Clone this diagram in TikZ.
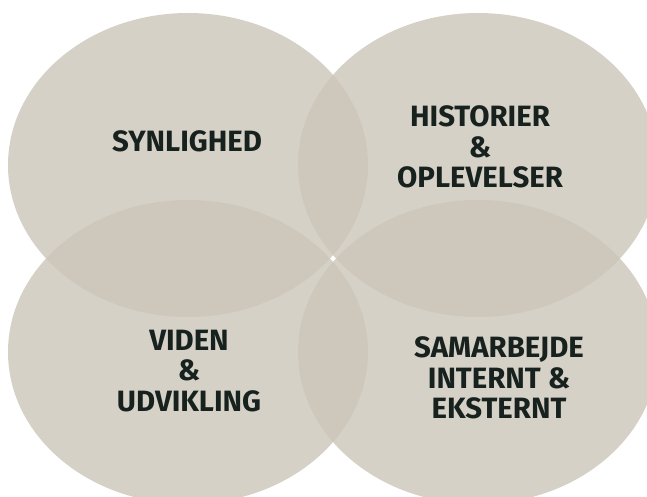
\documentclass[tikz,border=0pt]{standalone}
\usepackage{fontspec}
\setmainfont{Fira Sans}
\definecolor{sand}{RGB}{203,197,185}
\definecolor{ink}{RGB}{23,34,31}
\begin{document}
\begin{tikzpicture}[x=1bp, y=-1bp,
  bubble/.style={fill=sand, fill opacity=0.8},
  word/.style={text=ink, align=center, font=\bfseries\fontsize{29.5}{30.5}\selectfont}]
\useasboundingbox (0,0) rectangle (647,497);
\clip (0,0) rectangle (647,497);

% Ellipser
\fill[bubble] (188,165) ellipse [x radius=180, y radius=152];
\fill[bubble] (478,165) ellipse [x radius=180, y radius=152];
\fill[bubble] (188,352) ellipse [x radius=180, y radius=152];
\fill[bubble] (478,352) ellipse [x radius=180, y radius=152];

% Tekster
\node[word] (synlighed) at (187,141) {SYNLIGHED};
\node[word] (historier) at (480,147) {HISTORIER\\\&\\OPLEVELSER};
\node[word] (viden) at (189,371) {VIDEN\\\&\\UDVIKLING};
\node[word] (samarbejde) at (499,378) {SAMARBEJDE\\INTERNT \&\\EKSTERNT};
\end{tikzpicture}
\end{document}
